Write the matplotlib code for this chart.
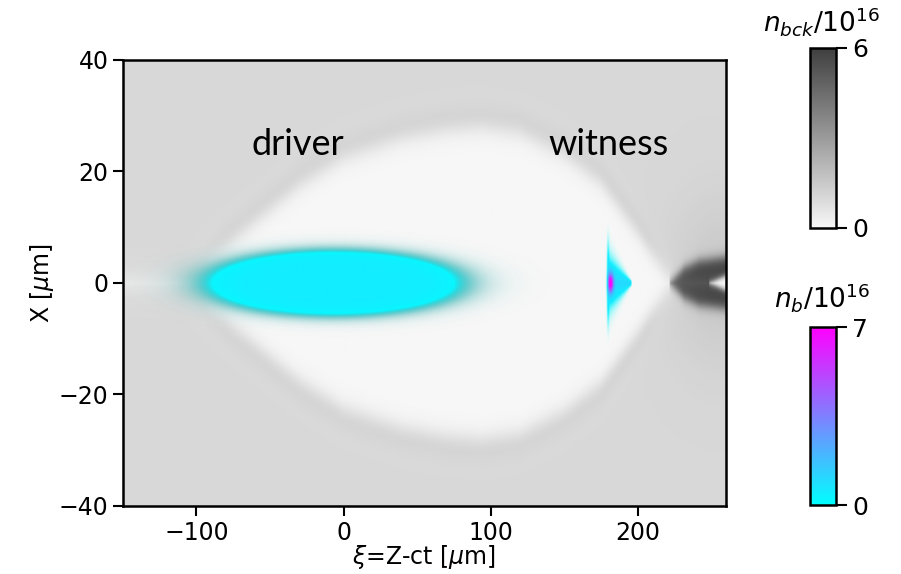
import numpy as np
import matplotlib
matplotlib.use('Agg')
import matplotlib.pyplot as plt
from matplotlib.colors import LinearSegmentedColormap, Normalize
from matplotlib.cm import ScalarMappable

# plot window
xi_lim = (-150, 260)
x_lim = (-40, 40)

# bubble (sheath) radius read along xi
bubble_xi = [-110, -90, -60, -30, 0, 40, 70, 95, 120, 150, 175, 200, 215, 225]
bubble_r = [0, 6, 12.5, 19, 24, 27.5, 29, 29.5, 28.5, 24.5, 19.5, 10.5, 4.5, 0]

# dense spike behind the bubble
spike_xi = [222, 232, 242, 260]
spike_r = [0, 2.8, 4.0, 4.6]
hole_xi = [249, 260]
hole_r = [0, 1.3]

# densities (units 1e16)
n_background = 1.0
n_sheath = 0.5
n_spike = 4.6
bck_max = 6
beam_max = 7

# driver beam: centre, half length, half width, density
driver = dict(xi0=-7, len=84, wid=5.6, n=0.5)
# witness beam: head, tail, half width at head, density of body and of core
witness = dict(head=180, tail=196, wid=4.2, n_body=1.0, n_core=7.0)

xi = np.linspace(xi_lim[0], xi_lim[1], 900)
x = np.linspace(x_lim[0], x_lim[1], 420)
XI, X = np.meshgrid(xi, x)
ax_abs = np.abs(X)

R = np.interp(xi, bubble_xi, bubble_r, left=0, right=0)[None, :]
inside = 1 / (1 + np.exp(-(R - ax_abs) / 1.5))
sheath = np.exp(-((ax_abs - R) / 2.6) ** 2) * np.clip(R / 8, 0, 1)
back = 0.5 * np.exp(-((XI - 258) / 35) ** 2 - (X / 15) ** 2)
n_bck = n_background * (1 - inside) + n_sheath * sheath + back * (1 - inside)

h = np.interp(xi, spike_xi, spike_r, left=0, right=spike_r[-1])[None, :]
spike = 1 / (1 + np.exp(-(h - ax_abs) / 0.6)) * (XI > spike_xi[0])
n_bck = n_bck + n_spike * spike
hh = np.interp(xi, hole_xi, hole_r, left=0, right=hole_r[-1])[None, :]
hole = 1 / (1 + np.exp(-(hh - ax_abs) / 0.3)) * (XI > hole_xi[0])
n_bck = n_bck * (1 - hole)

# driver density
q = np.sqrt(((XI - driver['xi0']) / driver['len']) ** 2 + (X / driver['wid']) ** 2)
n_d = driver['n'] / (1 + np.exp((q - 1) / 0.1))

# witness density
frac = np.clip((witness['tail'] - XI) / (witness['tail'] - witness['head']), 0, 1)
w = witness['wid'] * frac + 0.3
front = 1 / (1 + np.exp(-(XI - witness['head']) / 0.4))
n_w = witness['n_body'] * front * np.exp(-(X / w) ** 2) * (frac > 0)
n_w += witness['n_core'] * np.exp(-((XI - witness['head'] - 1.5) / 2.0) ** 2 - (X / 1.6) ** 2) * front
n_w += 0.5 * np.exp(-((XI - witness['head']) / 0.7) ** 2 - (X / 7.5) ** 4)

bck_cmap = LinearSegmentedColormap.from_list('bck', ['#f7f7f7', '#3f3f3f'])
beam_cmap = plt.get_cmap('cool')

rgba_d = beam_cmap(np.clip(n_d / beam_max, 0, 1))
t = np.clip(n_d / (0.55 * driver['n']), 0, 1)
rgba_d[..., :3] *= (0.6 + 0.4 * t[..., None] ** 2)
rgba_d[..., 3] = t ** 0.8

rgba_w = beam_cmap(np.clip(n_w / beam_max, 0, 1))
rgba_w[..., 3] = np.clip(n_w / 0.5, 0, 1)

fig = plt.figure(figsize=(9.01, 5.74), dpi=100)
ax = fig.add_axes([0.1365, 0.1185, 0.669, 0.777])
ext = [xi_lim[0], xi_lim[1], x_lim[0], x_lim[1]]
ax.imshow(n_bck, extent=ext, origin='lower', aspect='auto',
          cmap=bck_cmap, vmin=0, vmax=bck_max, interpolation='bilinear')
ax.imshow(rgba_d, extent=ext, origin='lower', aspect='auto', interpolation='bilinear')
ax.imshow(rgba_w, extent=ext, origin='lower', aspect='auto', interpolation='bilinear')
ax.set_xlim(xi_lim)
ax.set_ylim(x_lim)
ax.set_xticks([-100, 0, 100, 200])
ax.set_yticks([-40, -20, 0, 20, 40])
ax.tick_params(labelsize=17, width=1.5, length=7)
for sp in ax.spines.values():
    sp.set_linewidth(1.8)
ax.set_xlabel(r'$\xi$=Z-ct [$\mu$m]', fontsize=17, labelpad=-1)
ax.set_ylabel(r'X [$\mu$m]', fontsize=17, labelpad=2)

ax.text(-31, 24.8, 'driver', fontsize=26, family='Lato', ha='center', va='center')
ax.text(180, 24.8, 'witness', fontsize=26, family='Lato', ha='center', va='center')

# colorbars
cax1 = fig.add_axes([0.899, 0.6028, 0.029, 0.3136])
cb1 = fig.colorbar(ScalarMappable(Normalize(0, bck_max), bck_cmap), cax=cax1, ticks=[0, bck_max])
cax2 = fig.add_axes([0.899, 0.1202, 0.029, 0.310])
cb2 = fig.colorbar(ScalarMappable(Normalize(0, beam_max), beam_cmap), cax=cax2, ticks=[0, beam_max])
for cb in (cb1, cb2):
    cb.outline.set_linewidth(1.8)
    cb.ax.tick_params(labelsize=18, width=1.5, length=8)
fig.text(0.912, 0.962, r'$n_{bck}/10^{16}$', fontsize=19, ha='center', va='center')
fig.text(0.912, 0.482, r'$n_{b}/10^{16}$', fontsize=19, ha='center', va='center')

fig.savefig('out.png', dpi=100)
